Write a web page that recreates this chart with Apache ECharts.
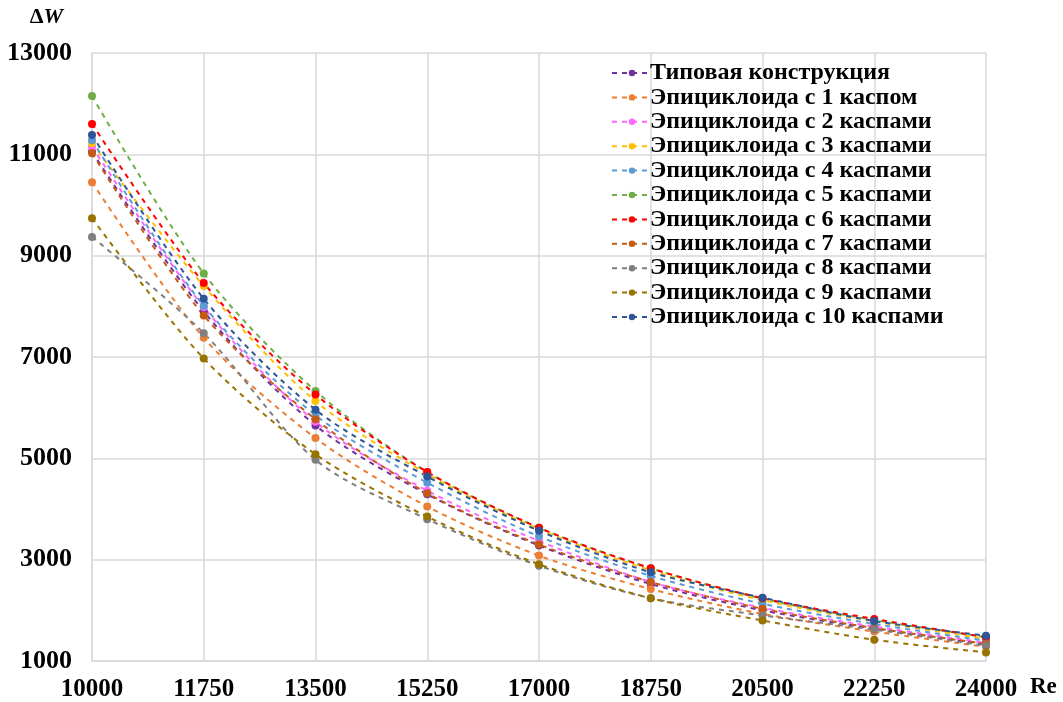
<!DOCTYPE html>
<html>
<head>
<meta charset="utf-8">
<script src="https://cdn.jsdelivr.net/npm/echarts@6/dist/echarts.min.js"></script>
<style>html,body{margin:0;padding:0;background:#fff}#c{width:1063px;height:702px}</style>
</head>
<body>
<div id="c"></div>
<script>
const categories = ['10000','11750','13500','15250','17000','18750','20500','22250','24000'];
const seriesNames = [
  'Типовая конструкция',
  'Эпициклоида с 1 каспом',
  'Эпициклоида с 2 каспами',
  'Эпициклоида с 3 каспами',
  'Эпициклоида с 4 каспами',
  'Эпициклоида с 5 каспами',
  'Эпициклоида с 6 каспами',
  'Эпициклоида с 7 каспами',
  'Эпициклоида с 8 каспами',
  'Эпициклоида с 9 каспами',
  'Эпициклоида с 10 каспами'
];
const typical = [11050, 7900, 5650, 4290, 3280, 2520, 2000, 1640, 1330];
const cusp1   = [10450, 7380, 5400, 4050, 3080, 2420, 1930, 1580, 1280];
const cusp2   = [11150, 7980, 5720, 4360, 3370, 2560, 2050, 1680, 1360];
const cusp3   = [11220, 8400, 6130, 4690, 3600, 2790, 2200, 1780, 1440];
const cusp4   = [11280, 8010, 5850, 4520, 3460, 2680, 2130, 1730, 1400];
const cusp5   = [12150, 8650, 6330, 4730, 3630, 2830, 2230, 1810, 1470];
const cusp6   = [11600, 8460, 6260, 4730, 3630, 2830, 2240, 1830, 1470];
const cusp7   = [11020, 7820, 5770, 4310, 3300, 2560, 2030, 1650, 1340];
const cusp8   = [9370, 7470, 4970, 3800, 2880, 2240, 1900, 1620, 1300];
const cusp9   = [9740, 6970, 5080, 3850, 2910, 2240, 1800, 1420, 1170];
const cusp10  = [11380, 8150, 5960, 4640, 3570, 2750, 2250, 1790, 1500];
const seriesData = [typical, cusp1, cusp2, cusp3, cusp4, cusp5, cusp6, cusp7, cusp8, cusp9, cusp10];
const colors = ['#7030A0','#ED7D31','#FF66FF','#FFC000','#5B9BD5','#70AD47','#FF0000','#C55A11','#7F7F7F','#997300','#2E5597'];

const font = '"Liberation Serif", "Times New Roman", serif';
const chart = echarts.init(document.getElementById('c'));
chart.setOption({
  animation: false,
  color: colors,
  grid: {left: 92, right: 77, top: 53, bottom: 40},
  legend: {
    orient: 'vertical',
    left: 606,
    top: 56,
    itemGap: 0.4,
    itemWidth: 40,
    itemHeight: 8,
    textStyle: {fontFamily: font, fontWeight: 'bold', fontSize: 24, lineHeight: 24, color: '#000', padding: [0,0,0,-7]},
    data: seriesNames
  },
  xAxis: {
    type: 'category',
    boundaryGap: false,
    data: categories,
    name: 'Re',
    nameLocation: 'end',
    nameGap: 44,
    nameTextStyle: {fontFamily: font, fontWeight: 'bold', fontSize: 23, color: '#000', verticalAlign: 'top', padding: [15,0,0,0]},
    axisLine: {show: true, lineStyle: {color: '#d9d9d9', width: 1.5}},
    axisTick: {show: false},
    axisLabel: {fontFamily: font, fontWeight: 'bold', fontSize: 25, color: '#000', margin: 16},
    splitLine: {show: true, lineStyle: {color: '#d9d9d9', width: 1.5}}
  },
  yAxis: {
    type: 'value',
    min: 1000,
    max: 13000,
    interval: 2000,
    name: '{d|Δ}{w|W}',
    nameLocation: 'end',
    nameGap: 25,
    nameTextStyle: {align: 'right', padding: [0, 29, 0, 0],
      rich: {
        d: {fontFamily: font, fontWeight: 'bold', fontSize: 22, color: '#000'},
        w: {fontFamily: font, fontWeight: 'bold', fontStyle: 'italic', fontSize: 22, color: '#000'}
      }
    },
    axisLine: {show: true, lineStyle: {color: '#d9d9d9', width: 1.5}},
    axisTick: {show: false},
    axisLabel: {fontFamily: font, fontWeight: 'bold', fontSize: 26, color: '#000', margin: 20,
      formatter: v => String(v)},
    splitLine: {show: true, lineStyle: {color: '#d9d9d9', width: 1.5}}
  },
  series: seriesNames.map((n, i) => ({
    name: n,
    type: 'line',
    data: seriesData[i],
    smooth: 0.3,
    symbol: 'circle',
    symbolSize: 8,
    lineStyle: {type: [5, 5], width: 2},
    itemStyle: {color: colors[i]}
  }))
});
</script>
</body>
</html>
